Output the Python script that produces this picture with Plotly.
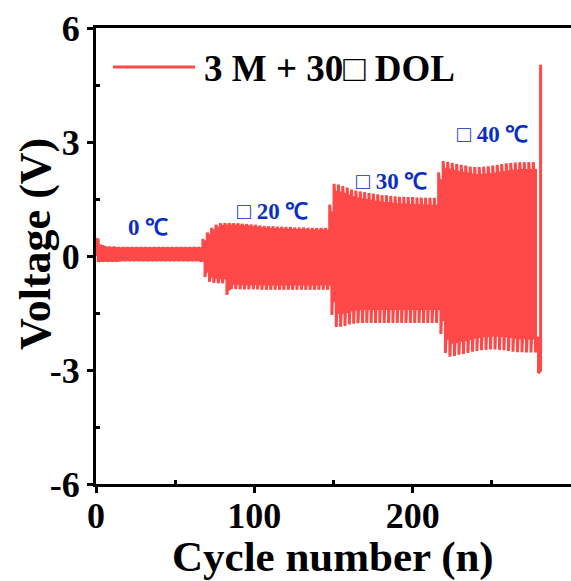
import numpy as np
import plotly.graph_objects as go

# ---- data ----
# segment boundaries (cycle number)
seg_bounds = [0.0, 67.5, 147.6, 216.4, 279.0]
seg_labels = ["0 ℃", "□ 20 ℃", "□ 30 ℃", "□ 40 ℃"]
label_x = [32.8, 111.2, 186.9, 250.2]
label_y = [0.74, 1.18, 1.97, 3.19]

# peak voltages of each charge (up) / discharge (down) half cycle, per segment
up0 = [0.47, 0.30, 0.26, 0.25, 0.25, 0.24, 0.24, 0.24, 0.24, 0.24, 0.24, 0.24,
       0.24, 0.24, 0.24, 0.24, 0.24, 0.24, 0.24, 0.24, 0.24, 0.24, 0.24, 0.24]
dn0 = [-0.16, -0.15, -0.15, -0.15, -0.15, -0.14, -0.14, -0.14, -0.14, -0.14, -0.14, -0.14,
       -0.14, -0.14, -0.14, -0.14, -0.14, -0.14, -0.14, -0.14, -0.14, -0.14, -0.14, -0.15]
up1 = [0.45, 0.62, 0.74, 0.82, 0.86, 0.87, 0.87, 0.86, 0.86, 0.85, 0.84, 0.83, 0.82, 0.80,
       0.79, 0.78, 0.78, 0.77, 0.77, 0.76, 0.76, 0.75, 0.75, 0.75, 0.74, 0.74, 0.74, 0.74, 0.74]
dn1 = [-0.55, -0.68, -0.71, -0.72, -0.72, -1.02, -0.87, -0.87, -0.88, -0.88, -0.88, -0.88,
       -0.88, -0.89, -0.89, -0.89, -0.89, -0.89, -0.89, -0.89, -0.89, -0.89, -0.89, -0.89,
       -0.89, -0.89, -0.89, -0.89, -0.89]
up2 = [1.35, 1.90, 1.88, 1.84, 1.80, 1.75, 1.72, 1.70, 1.68, 1.66, 1.64, 1.62, 1.60,
       1.60, 1.58, 1.57, 1.56, 1.56, 1.55, 1.55, 1.54, 1.54, 1.53, 1.53, 1.53]
dn2 = [-1.55, -1.87, -1.86, -1.84, -1.80, -1.78, -1.77, -1.76, -1.76, -1.76, -1.76, -1.76,
       -1.76, -1.76, -1.76, -1.76, -1.76, -1.76, -1.76, -1.76, -1.76, -1.76, -1.76, -1.76, -1.76]
up3 = [2.20, 2.50, 2.48, 2.45, 2.42, 2.40, 2.38, 2.35, 2.34, 2.34, 2.35, 2.36,
       2.38, 2.40, 2.42, 2.44, 2.45, 2.46, 2.47, 2.47, 2.47, 2.47]
dn3 = [-2.05, -2.55, -2.65, -2.63, -2.60, -2.58, -2.55, -2.52, -2.50, -2.48, -2.47,
       -2.46, -2.46, -2.47, -2.48, -2.50, -2.52, -2.53, -2.53, -2.54, -2.54, -2.54]
# depth of the relaxation after each peak (V): top, bottom
depth_up = [0.05, 0.08, 0.22, 0.22]
depth_dn = [0.04, 0.15, 0.38, 0.38]

# final failure spikes
end_x = [279.5, 279.5, 280.8, 280.8]
end_y = [-2.2, -3.08, -3.0, 5.03]

ups = [up0, up1, up2, up3]
dns = [dn0, dn1, dn2, dn3]

# ---- build the voltage trace ----
xs, ys = [0.0], [0.0]
for k in range(4):
    a, b = seg_bounds[k], seg_bounds[k + 1]
    n = len(ups[k])
    edges = np.linspace(a, b, n + 1)
    for i in range(n):
        x0, x1 = edges[i], edges[i + 1]
        p = x1 - x0
        u, d = ups[k][i], dns[k][i]
        xs += [x0, x0 + 0.12 * p, x0 + 0.5 * p, x0 + 0.5 * p, x0 + 0.62 * p, x1]
        ys += [u, u - depth_up[k], u - depth_up[k], d, d + depth_dn[k], d + depth_dn[k]]
xs += end_x
ys += end_y

RED = "#FF4848"
BLUE = "#0A2EC4"
FONT = "Liberation Serif"

fig = go.Figure()
fig.add_trace(go.Scatter(x=xs, y=ys, mode="lines", name="3 M + 30□ DOL",
                         line=dict(color=RED, width=3), showlegend=False))

# legend drawn by hand (long line sample)
fig.add_shape(type="line", xref="paper", yref="paper",
              x0=(113 - 96) / 475, x1=(195 - 96) / 475,
              y0=(484 - 67) / 456, y1=(484 - 67) / 456,
              line=dict(color=RED, width=3))
fig.add_annotation(xref="paper", yref="paper", x=(202 - 96) / 475, y=(484 - 68) / 456,
                   text="<b>3 M + 30□ DOL</b>", showarrow=False, xanchor="left",
                   yanchor="middle", font=dict(family=FONT, size=37, color="black"))

for t, lx, ly in zip(seg_labels, label_x, label_y):
    fig.add_annotation(x=lx, y=ly, text="<b>" + t + "</b>", showarrow=False,
                       xanchor="center", yanchor="middle",
                       font=dict(family=FONT, size=23, color=BLUE))

# axis titles placed by hand
fig.add_annotation(xref="paper", yref="paper", x=(35 - 96) / 475, y=(484 - 244) / 456,
                   text="<b>Voltage (V)</b>", showarrow=False, textangle=-90,
                   xanchor="center", yanchor="middle",
                   font=dict(family=FONT, size=44, color="black"))
fig.add_annotation(xref="paper", yref="paper", x=(333 - 96) / 475, y=(484 - 557) / 456,
                   text="<b>Cycle number (n)</b>", showarrow=False,
                   xanchor="center", yanchor="middle",
                   font=dict(family=FONT, size=43, color="black"))

axis_common = dict(
    showline=True, linecolor="black", linewidth=3,
    ticks="outside", ticklen=6, tickwidth=3, tickcolor="black",
    showgrid=False, zeroline=False,
    tickfont=dict(family=FONT, size=36, color="black"),
)

fig.update_xaxes(range=[0, 300], tickvals=[0, 100, 200], ticktext=["<b>0</b>", "<b>100</b>", "<b>200</b>"],
                 mirror=True, ticklabelstandoff=-8,
                 minor=dict(tickvals=[50, 150, 250], ticks="inside", ticklen=4, tickwidth=3, tickcolor="black"),
                 **axis_common)
fig.update_yaxes(range=[-6, 6], tickvals=[-6, -3, 0, 3, 6],
                 ticktext=["<b>-6</b>", "<b>-3</b>", "<b>0</b>", "<b>3</b>", "<b>6</b>"],
                 mirror=False,
                 minor=dict(tickvals=[-4.5, -1.5, 1.5, 4.5], ticks="inside", ticklen=4, tickwidth=3, tickcolor="black"),
                 **axis_common)

fig.update_layout(width=571, height=581, margin=dict(l=96, r=0, t=28, b=97),
                  paper_bgcolor="white", plot_bgcolor="white")

fig.write_html("out.html")
